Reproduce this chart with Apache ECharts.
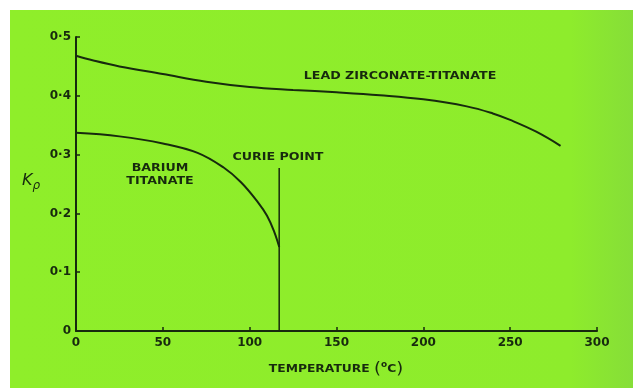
<!DOCTYPE html>
<html>
<head>
<meta charset="utf-8">
<script src="https://cdn.jsdelivr.net/npm/echarts@6/dist/echarts.min.js"></script>
<style>
  html, body { margin: 0; padding: 0; background: #ffffff; }
  #paper {
    position: absolute; left: 10px; top: 10px; right: 0; bottom: 0;
    background: linear-gradient(to right, #8fee2a 0%, #8eec2c 90%, #86de38 100%);
  }
  #chart { position: absolute; left: 0; top: 0; width: 633px; height: 388px; }
</style>
</head>
<body>
<div id="paper"></div>
<div id="chart"></div>
<script>
// Coupling coefficient kp against temperature for two piezoelectric ceramics
const xTicks = [0, 50, 100, 150, 200, 250, 300];
const yTicks = [0, 0.1, 0.2, 0.3, 0.4, 0.5];

const leadTemp = [0, 10, 25, 50, 75, 100, 125, 150, 175, 200, 225, 240, 250, 265, 279];
const leadKp   = [0.468, 0.460, 0.450, 0.437, 0.424, 0.415, 0.410, 0.406, 0.401, 0.394, 0.382, 0.370, 0.359, 0.339, 0.315];

const bariumTemp = [0, 25, 50, 70, 85, 95, 105, 110, 114, 117];
const bariumKp   = [0.337, 0.331, 0.319, 0.303, 0.278, 0.253, 0.218, 0.196, 0.170, 0.143];

const curieTemp = 117;
const curieTop = 0.277;

const ink = '#172a0e';
const font = '"DejaVu Sans", sans-serif';

const pairs = (xs, ys) => xs.map((x, i) => [x, ys[i]]);
const fmtTick = v => v === 0 ? '0' : v.toFixed(1).replace('.', '·');

// Hand-lettered captions: wide, bold capitals centred on (x, y)
const labelText = (x, y, text) => ({
  type: 'text', x: x, y: y, scaleX: 1.15,
  style: { text: text, fill: ink, font: 'bold 11px ' + font, align: 'center', verticalAlign: 'middle' }
});

const chart = echarts.init(document.getElementById('chart'));
chart.setOption({
  backgroundColor: 'transparent',
  animation: false,
  grid: { left: 76, right: 36, top: 37, bottom: 57 },
  xAxis: {
    type: 'value', min: xTicks[0], max: xTicks[xTicks.length - 1], interval: 50,
    axisLine: { lineStyle: { color: ink, width: 2 } },
    axisTick: { inside: true, length: 4, lineStyle: { color: ink, width: 1.5 } },
    splitLine: { show: false },
    axisLabel: { color: ink, fontFamily: font, fontSize: 12, fontWeight: 'bold', margin: 6 }
  },
  yAxis: {
    type: 'value', min: yTicks[0], max: yTicks[yTicks.length - 1], interval: 0.1,
    axisLine: { show: true, lineStyle: { color: ink, width: 2 } },
    axisTick: { show: true, inside: true, length: 4, lineStyle: { color: ink, width: 1.5 } },
    splitLine: { show: false },
    axisLabel: { color: ink, fontFamily: font, fontSize: 12, fontWeight: 'bold', margin: 5, formatter: fmtTick }
  },
  series: [
    {
      name: 'LEAD ZIRCONATE-TITANATE', type: 'line', smooth: 0.4, showSymbol: false,
      lineStyle: { color: ink, width: 2 }, data: pairs(leadTemp, leadKp)
    },
    {
      name: 'BARIUM TITANATE', type: 'line', smooth: 0.4, showSymbol: false,
      lineStyle: { color: ink, width: 2 }, data: pairs(bariumTemp, bariumKp)
    },
    {
      name: 'CURIE POINT', type: 'line', showSymbol: false,
      lineStyle: { color: ink, width: 1.5 }, data: [[curieTemp, 0], [curieTemp, curieTop]]
    }
  ],
  graphic: [
    labelText(400, 76, 'LEAD ZIRCONATE-TITANATE'),
    labelText(278, 157, 'CURIE POINT'),
    labelText(160, 168, 'BARIUM'),
    labelText(160, 181, 'TITANATE'),
    { type: 'text', x: 336, y: 369, scaleX: 1.12,
      style: {
        text: '{t|TEMPERATURE }{b|(}{d|o}{t|C}{b|)}', align: 'center', verticalAlign: 'middle',
        rich: {
          t: { fill: ink, fontFamily: font, fontSize: 11, fontWeight: 'bold' },
          b: { fill: ink, fontFamily: font, fontSize: 16 },
          d: { fill: ink, fontFamily: font, fontSize: 8, fontWeight: 'bold', padding: [0, 0, 8, 0] }
        }
      } },
    { type: 'text', left: 22, top: 173,
      style: {
        text: '{k|K}{p|ρ}',
        rich: {
          k: { fill: ink, fontFamily: font, fontSize: 16, fontStyle: 'italic' },
          p: { fill: ink, fontFamily: font, fontSize: 12, fontStyle: 'italic', padding: [9, 0, 0, 0] }
        }
      } }
  ]
});
</script>
</body>
</html>
